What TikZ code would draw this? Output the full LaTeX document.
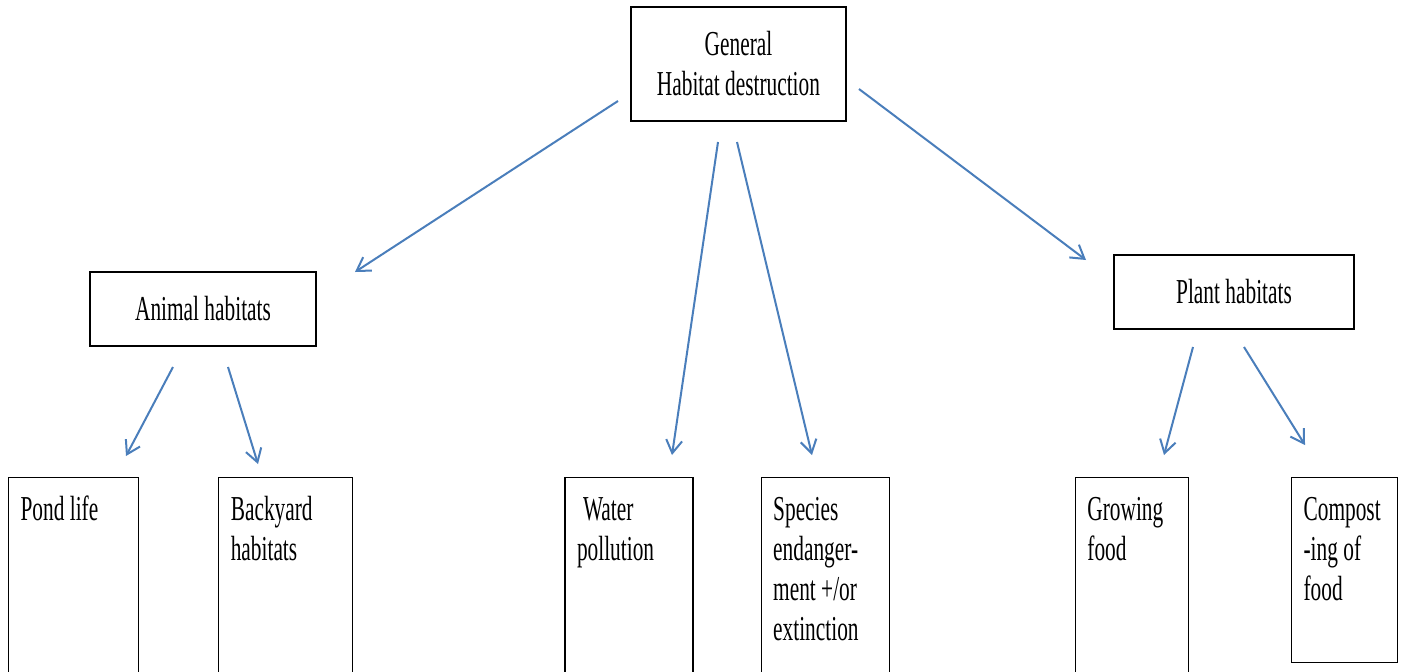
\documentclass[tikz,border=0pt]{standalone}
\usepackage{fontspec}
\setmainfont{Liberation Serif}[FakeStretch=0.61]
\usetikzlibrary{positioning, arrows.meta}
\definecolor{linkblue}{RGB}{74,126,187}
\tikzset{
  topic/.style={rectangle, draw, line width=0.6pt, align=center, font=\fontsize{17.5}{20}\selectfont},
  leaf/.style 2 args={rectangle, draw, line width=0.6pt, anchor=north west, inner xsep=6pt, inner ysep=7.5pt,
    font=\fontsize{17.5}{20}\selectfont,
    execute at begin node={\begin{minipage}[t][#2][t]{#1}\raggedright\strut},
    execute at end node={\end{minipage}}},
  link/.style={line width=1pt, linkblue, -{Straight Barb[length=6.5pt, width=8pt, line width=1pt]}}
}

\begin{document}
\begin{tikzpicture}[x=0.5pt, y=-0.5pt]
  \useasboundingbox (0,0) rectangle (1404,671);
  \clip (0,0) rectangle (1404,671);

  % Top level
  \node (general) [topic, minimum width=107.5pt, minimum height=57pt] at (738.5,64) {General\\Habitat destruction};

  % Middle level
  \node (animal) [topic, minimum width=113pt, minimum height=37pt] at (203,309) {Animal habitats};
  \node (plant) [topic, minimum width=120pt, minimum height=37pt] at (1234,292) {Plant habitats};

  % Bottom row
  \node (pond) [leaf={53pt}{110pt}] at (8,477) {Pond life};
  \node (backyard) [leaf={55pt}{110pt}, right=39.5pt of pond.north east, anchor=north west] {Backyard\\habitats};
  \node (water) [leaf={52pt}{110pt}, right=105.5pt of backyard.north east, anchor=north west] {\hspace{3pt}Water\\pollution};
  \node (species) [leaf={52pt}{110pt}, right=33.5pt of water.north east, anchor=north west] {Species\\endanger-\\ment +/or\\extinction};
  \node (growing) [leaf={44.5pt}{110pt}, right=92.5pt of species.north east, anchor=north west] {Growing\\food};
  \node (compost) [leaf={41pt}{77.5pt}, right=51pt of growing.north east, anchor=north west] {Compost\\-ing of\\food};

  % Arrow ends
  \coordinate (general-a) at (618,101);
  \coordinate (general-w) at (718,142);
  \coordinate (general-s) at (737,142);
  \coordinate (general-p) at (859,89);
  \coordinate (animal-in) at (355,272);
  \coordinate (water-in) at (672,455);
  \coordinate (species-in) at (812,455);
  \coordinate (plant-in) at (1086,260);
  \coordinate (animal-l) at (173,367);
  \coordinate (animal-r) at (228,367);
  \coordinate (pond-in) at (126,456);
  \coordinate (backyard-in) at (258,464);
  \coordinate (plant-l) at (1193,347);
  \coordinate (plant-r) at (1244,347);
  \coordinate (growing-in) at (1164,455);
  \coordinate (compost-in) at (1305,445);

  % Arrows
  \draw[link] (general-a) -- (animal-in);
  \draw[link] (general-w) -- (water-in);
  \draw[link] (general-s) -- (species-in);
  \draw[link] (general-p) -- (plant-in);
  \draw[link] (animal-l) -- (pond-in);
  \draw[link] (animal-r) -- (backyard-in);
  \draw[link] (plant-l) -- (growing-in);
  \draw[link] (plant-r) -- (compost-in);

\end{tikzpicture}
\end{document}
